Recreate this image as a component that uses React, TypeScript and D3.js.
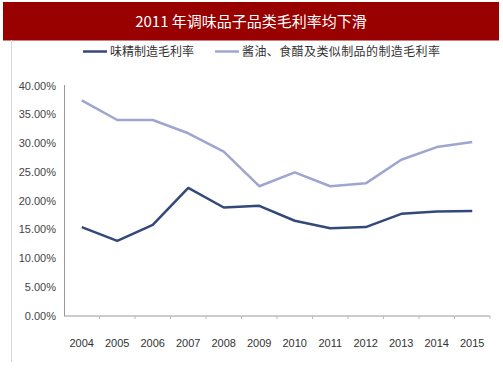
import React from "react";
import * as d3 from "d3";

const years = ["2004","2005","2006","2007","2008","2009","2010","2011","2012","2013","2014","2015"];
const msgMargin = [15.4,13.0,15.8,22.2,18.8,19.1,16.5,15.2,15.4,17.7,18.1,18.2];
const soyMargin = [37.4,34.0,34.0,31.7,28.5,22.5,24.9,22.5,23.0,27.1,29.3,30.2];
const yTicks = [0,5,10,15,20,25,30,35,40];
const seriesNames = ["味精制造毛利率","酱油、食醋及类似制品的制造毛利率"];
const colors = ["#34497a","#9ea6cf"];
const title = "2011 年调味品子品类毛利率均下滑";

export default function App() {
  const W = 503, H = 378;
  const x = d3.scaleBand<string>().domain(years).range([64, 490]);
  const y = d3.scaleLinear().domain([0, 40]).range([315.7, 85.5]);
  const line = d3.line<number>()
    .x((_, i) => (x(years[i]) as number) + x.bandwidth() / 2)
    .y(d => y(d));
  const font = "Arial, 'Liberation Sans', sans-serif";
  const cjk = "'Noto Sans CJK SC', sans-serif";
  return (
    <svg width={W} height={H} style={{ position: "absolute", left: 0, top: 0, background: "#fff" }}>
      <rect x={3} y={2} width={496} height={38.5} fill="#990000" />
      <text x={251} y={27} textAnchor="middle" fill="#fff" fontSize={15} fontFamily={cjk}>{title}</text>
      <line x1={11.5} x2={11.5} y1={40} y2={362} stroke="#d6d6d6" strokeWidth={1} />
      {/* legend */}
      <line x1={83} x2={107} y1={51.5} y2={51.5} stroke={colors[0]} strokeWidth={2.5} />
      <text x={110} y={55.5} fontSize={12} fill="#333" fontFamily={cjk}>{seriesNames[0]}</text>
      <line x1={215} x2={239} y1={51.5} y2={51.5} stroke={colors[1]} strokeWidth={2.5} />
      <text x={242} y={55.5} fontSize={12} fill="#333" fontFamily={cjk} textLength={198}>{seriesNames[1]}</text>
      {/* y axis */}
      <line x1={64.5} x2={64.5} y1={85} y2={316} stroke="#999" />
      {yTicks.map(t => (
        <text key={t} x={56} y={y(t) + 4} textAnchor="end" fontSize={11} fill="#444" fontFamily={font}>
          {t.toFixed(2) + "%"}
        </text>
      ))}
      {/* x axis */}
      <line x1={64} x2={490} y1={316} y2={316} stroke="#999" />
      {years.map((yr, i) => (
        <g key={yr}>
          <line x1={(x(yr) as number) + x.bandwidth()} x2={(x(yr) as number) + x.bandwidth()} y1={316} y2={319} stroke="#bbb" />
          <text x={(x(yr) as number) + x.bandwidth() / 2} y={347} textAnchor="middle" fontSize={11} fill="#333" fontFamily={font}>{yr}</text>
        </g>
      ))}
      <path d={line(soyMargin) || ""} fill="none" stroke={colors[1]} strokeWidth={2.5} strokeLinejoin="round" />
      <path d={line(msgMargin) || ""} fill="none" stroke={colors[0]} strokeWidth={2.5} strokeLinejoin="round" />
    </svg>
  );
}
